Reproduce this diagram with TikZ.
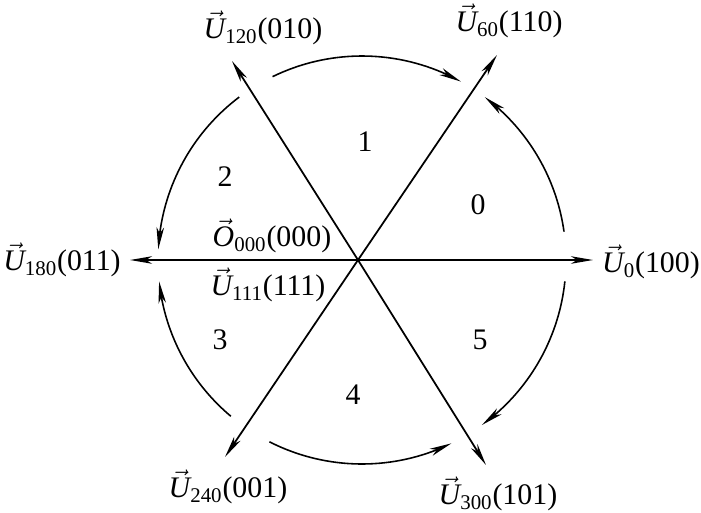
\documentclass[tikz,border=0pt]{standalone}
\usepackage{amsmath}
\usepackage{fontspec}
\setmainfont{Liberation Serif}
\usepackage{tikz}
\usetikzlibrary{arrows.meta, bending, positioning, calc}

\newcommand{\vlab}[3]{$\vec{\textit{#1}}_{\text{#2}}$(#3)}

\begin{document}
\begin{tikzpicture}[x=0.02cm, y=0.02cm, >={Stealth[length=0.44cm, width=0.15cm, inset=0.12cm]},
					line width=1pt,
					vec/.style={->},
					turn/.style={->, line width=0.9pt},
					lab/.style={font=\fontsize{17}{20}\selectfont, inner sep=0pt},
					sector/.style={font=\fontsize{17}{20}\selectfont, inner sep=0pt}
				]
	\useasboundingbox (-358,-252) rectangle (343,260);

	% Vectors
	\coordinate (o) at (0,0);
	\coordinate (c) at (4,0);
	\coordinate (u0) at (235,0);
	\coordinate (u60) at (139,205);
	\coordinate (u120) at (-126,199);
	\coordinate (u180) at (-228,0);
	\coordinate (u240) at (-133,-197);
	\coordinate (u300) at (128,-205);

	\draw[vec] (o) -- (u0);
	\draw[vec] (o) -- (u60);
	\draw[vec] (o) -- (u120);
	\draw[vec] (o) -- (u180);
	\draw[vec] (o) -- (u240);
	\draw[vec] (o) -- (u300);

	% Labels
	\node[lab] (l0) at (293,-2) {\vlab{U}{0}{100}};
	\node[lab] (l60) at (151,239) {\vlab{U}{60}{110}};
	\node[lab] (l120) at (-95,232) {\vlab{U}{120}{010}};
	\node[lab] (l180) at (-296,0) {\vlab{U}{180}{011}};
	\node[lab] (l240) at (-130,-227) {\vlab{U}{240}{001}};
	\node[lab] (l300) at (140,-234) {\vlab{U}{300}{101}};
	\node[lab] (lo000) at (-86,24) {\vlab{O}{000}{000}};
	\node[lab] (lu111) at (-90,-25) {\vlab{U}{111}{111}};

	% Sectors
	\node[sector] (s0) at (120,55) {0};
	\node[sector] (s1) at (7,118) {1};
	\node[sector] (s2) at (-133,83) {2};
	\node[sector] (s3) at (-138,-80) {3};
	\node[sector] (s4) at (-5,-135) {4};
	\node[sector] (s5) at (122,-80) {5};

	% Turning arcs
	\foreach \a/\b/\n in {8/53/1, 116/61/2, 127/177/3, 230/186/4, 243/296/5, 354/306/6}{
		\coordinate (t\n) at ($(c)+(\a:204)$);
		\draw[turn] (t\n) arc[start angle=\a, end angle=\b, radius=204];
	}
\end{tikzpicture}
\end{document}
